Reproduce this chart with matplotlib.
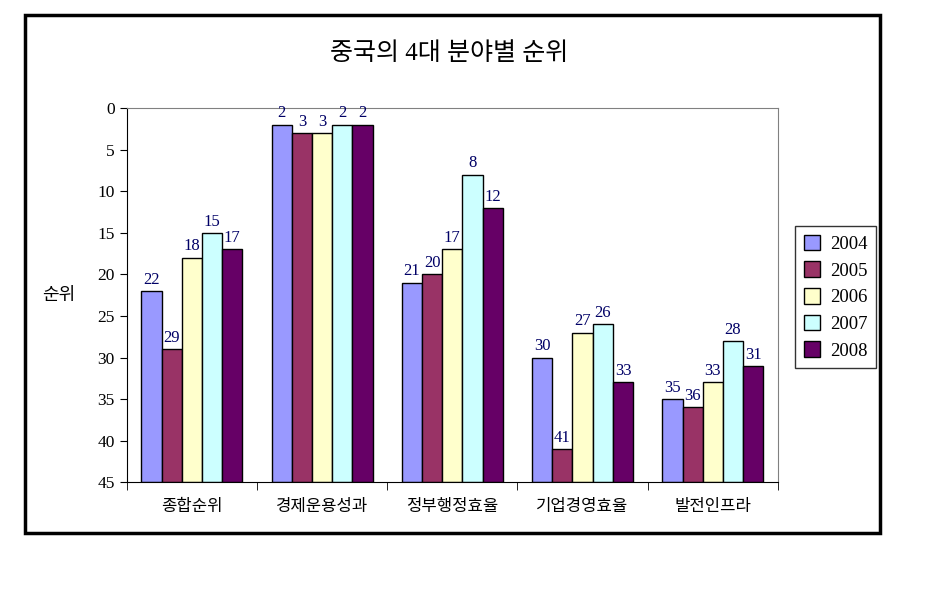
import matplotlib.pyplot as plt
from matplotlib.patches import Rectangle
import numpy as np

plt.rcParams['font.family'] = ['Liberation Serif', 'Noto Sans CJK KR']

categories = ['종합순위', '경제운용성과', '정부행정효율', '기업경영효율', '발전인프라']
years = ['2004', '2005', '2006', '2007', '2008']
ranks = {
    '2004': [22, 2, 21, 30, 35],
    '2005': [29, 3, 20, 41, 36],
    '2006': [18, 3, 17, 27, 33],
    '2007': [15, 2, 8, 26, 28],
    '2008': [17, 2, 12, 33, 31],
}
colors = ['#9999FF', '#993366', '#FFFFCC', '#CCFFFF', '#660066']

fig = plt.figure(figsize=(9.25, 5.91), dpi=100)
ax = fig.add_axes([0.137, 0.184, 0.704, 0.633])

x = np.arange(len(categories))
w = 0.155
for i, yr in enumerate(years):
    vals = np.array(ranks[yr])
    pos = x + (i - 2) * w
    ax.bar(pos, 45 - vals, bottom=vals, width=w, color=colors[i],
           edgecolor='black', linewidth=1, label=yr)
    for px, v in zip(pos, vals):
        ax.text(px, v - 0.4, str(v), ha='center', va='bottom',
                fontsize=12, color='#000066')

ax.set_ylim(45, 0)
ax.set_xlim(-0.5, 4.5)
ax.set_yticks(range(0, 46, 5))
ax.tick_params(axis='y', labelsize=12.5, length=5, direction='out')
ax.set_xticks(x)
ax.set_xticklabels(categories, fontsize=12)
ax.tick_params(axis='x', length=0, pad=12)
ax.set_xticks(np.arange(-0.5, 5, 1), minor=True)
ax.tick_params(axis='x', which='minor', length=6, direction='out')
ax.spines['top'].set_color('#808080')
ax.spines['right'].set_color('#808080')
ax.spines['left'].set_color('black')
ax.spines['bottom'].set_color('black')

ax.text(-0.105, 0.5, '순위', transform=ax.transAxes, ha='center', va='center', fontsize=13)

fig.text(0.486, 0.91, '중국의 4대 분야별 순위', ha='center', va='center', fontsize=18)

leg = ax.legend(loc='center left', bbox_to_anchor=(1.012, 0.495), fontsize=13.5,
                frameon=True, fancybox=False, edgecolor='black',
                handlelength=0.9, handleheight=0.9, labelspacing=0.45,
                borderpad=0.45, handletextpad=0.5)
leg.get_frame().set_linewidth(1)

fig.patches.append(Rectangle((25 / 925, 1 - 533 / 591), 855 / 925, 518 / 591,
                             transform=fig.transFigure, fill=False,
                             edgecolor='black', linewidth=2.5))

fig.savefig('out.png', dpi=100)
